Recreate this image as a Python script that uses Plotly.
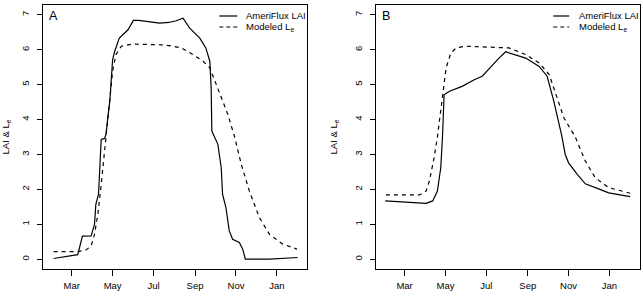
import plotly.graph_objects as go

# ---------------- data (day of year; day 366 = Jan 1 of following year) -------------
month_ticks = [60, 121, 182, 244, 305, 366]
month_labels = ["Mar", "May", "Jul", "Sep", "Nov", "Jan"]
y_ticks = [0, 1, 2, 3, 4, 5, 6, 7]

a_lai_days = [33, 69, 76, 89, 94, 96, 100, 103, 104, 109, 111, 117, 121, 124, 131, 144, 148, 152, 160,
              175, 191, 205, 216, 226, 236, 251, 260, 266, 268, 269, 273, 278, 283, 285, 290, 295,
              300, 310, 315, 319, 355, 397]
a_lai_vals = [0.02, 0.13, 0.66, 0.67, 1.0, 1.57, 1.86, 3.2, 3.43, 3.46, 3.57, 4.57, 5.71, 5.95, 6.33,
              6.57, 6.71, 6.84, 6.84, 6.8, 6.76, 6.78, 6.83, 6.9, 6.62, 6.33, 6.05, 5.67, 4.9, 3.67,
              3.52, 3.29, 2.62, 1.86, 1.48, 0.81, 0.57, 0.48, 0.29, 0.0, 0.0, 0.05]

a_le_days = [33, 69, 81, 89, 94, 99, 104, 109, 116, 121, 126, 134, 151, 194, 211, 224, 241, 256,
             266, 280, 293, 303, 313, 325, 340, 355, 375, 396]
a_le_vals = [0.22, 0.22, 0.26, 0.38, 0.71, 1.29, 2.14, 3.1, 4.43, 5.38, 5.86, 6.1, 6.16, 6.14, 6.1,
             6.05, 5.86, 5.67, 5.48, 4.81, 4.14, 3.5, 2.71, 1.95, 1.19, 0.71, 0.43, 0.29]

b_lai_days = [31, 84, 92, 102, 109, 114, 116.6, 119, 127, 146, 164, 176, 189, 201, 211, 241, 261,
              273, 283, 290, 295, 300, 305, 318, 330, 348, 365, 397]
b_lai_vals = [1.67, 1.62, 1.6, 1.67, 1.95, 2.62, 3.5, 4.71, 4.81, 4.95, 5.14, 5.24, 5.52, 5.76, 5.94,
              5.76, 5.52, 5.24, 4.52, 3.95, 3.52, 3.0, 2.76, 2.43, 2.16, 2.03, 1.9, 1.79]

b_le_days = [32, 82, 92, 97, 104, 109, 117, 122, 129, 137, 151, 216, 241, 261, 276, 286, 298, 315,
             330, 345, 365, 397]
b_le_vals = [1.84, 1.84, 1.95, 2.24, 2.9, 3.5, 4.71, 5.48, 5.9, 6.05, 6.1, 6.05, 5.86, 5.62, 5.29,
             4.71, 4.05, 3.5, 2.81, 2.33, 2.05, 1.89]

series_names = ["AmeriFlux LAI", "Modeled L<sub>e</sub>"]
panel_letters = ["A", "B"]

# ---------------- figure -------------
fig = go.Figure()
FONT = "Liberation Sans, Arial, sans-serif"
LW = 1.2

for xa, ya, lai_d, lai_v, le_d, le_v in [
    ("x", "y", a_lai_days, a_lai_vals, a_le_days, a_le_vals),
    ("x2", "y2", b_lai_days, b_lai_vals, b_le_days, b_le_vals),
]:
    fig.add_trace(go.Scatter(x=lai_d, y=lai_v, mode="lines", xaxis=xa, yaxis=ya,
                             line=dict(color="black", width=LW), showlegend=False,
                             name=series_names[0]))
    fig.add_trace(go.Scatter(x=le_d, y=le_v, mode="lines", xaxis=xa, yaxis=ya,
                             line=dict(color="black", width=LW, dash="4px,4px"), showlegend=False,
                             name=series_names[1]))

W, H = 643, 299
xdom = [[41 / W, 306 / W], [375 / W, 639.5 / W]]
ydom = [1 - 269 / H, 1 - 5 / H]

common_x = dict(range=[17, 411], tickmode="array", tickvals=month_ticks, ticktext=month_labels,
                ticks="outside", ticklen=6, tickcolor="black", showline=True, mirror=True,
                linecolor="black", linewidth=1, showgrid=False, zeroline=False,
                tickfont=dict(family=FONT, size=9.5, color="black"), ticklabelstandoff=2)
common_y = dict(range=[-0.28, 7.28], tickmode="array", tickvals=y_ticks,
                ticks="outside", ticklen=5, tickcolor="black", showline=True, mirror=True,
                linecolor="black", linewidth=1, showgrid=False, zeroline=False, tickangle=-90,
                tickfont=dict(family=FONT, size=9.5, color="black"), ticklabelstandoff=4,
                title=dict(text="LAI & L<sub>e</sub>", font=dict(family=FONT, size=9.5, color="black"),
                           standoff=13))

fig.update_layout(
    width=W, height=H, margin=dict(l=0, r=0, t=0, b=0),
    paper_bgcolor="white", plot_bgcolor="white",
    xaxis=dict(domain=xdom[0], anchor="y", **common_x),
    yaxis=dict(domain=ydom, anchor="x", **common_y),
    xaxis2=dict(domain=xdom[1], anchor="y2", **common_x),
    yaxis2=dict(domain=ydom, anchor="x2", **common_y),
)

# legends and panel letters
legend_pos = [(218, 236, 243), (553, 569, 577)]
letter_pos = [51.5, 385.5]
shapes = []
annotations = []
for i in range(2):
    x0, x1, tx = legend_pos[i]
    for j, (yy, dash) in enumerate([(16, "solid"), (27, "4px,3px")]):
        shapes.append(dict(type="line", xref="paper", yref="paper",
                           x0=x0 / W, x1=x1 / W, y0=1 - yy / H, y1=1 - yy / H,
                           line=dict(color="black", width=LW, dash=dash)))
        annotations.append(dict(xref="paper", yref="paper", x=tx / W, y=1 - yy / H,
                                xanchor="left", yanchor="middle", showarrow=False,
                                text=series_names[j],
                                font=dict(family=FONT, size=9.5, color="black")))
    annotations.append(dict(xref="paper", yref="paper", x=letter_pos[i] / W, y=1 - 16 / H,
                            xanchor="center", yanchor="middle", showarrow=False,
                            text=panel_letters[i],
                            font=dict(family=FONT, size=12.5, color="black")))

fig.update_layout(shapes=shapes, annotations=annotations)
fig.write_html("out.html")
